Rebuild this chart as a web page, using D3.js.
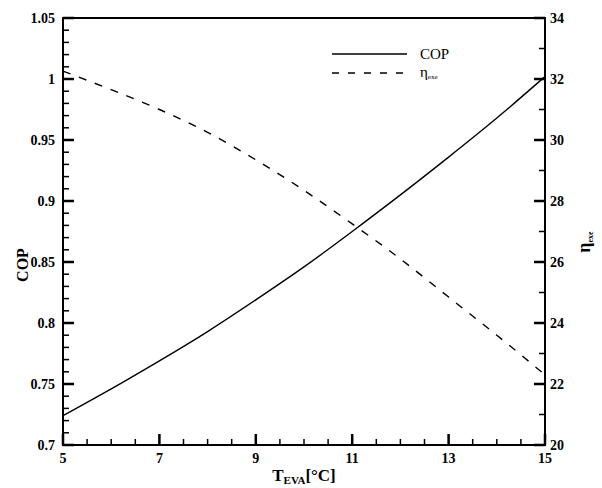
<!DOCTYPE html>
<html><head><meta charset="utf-8">
<script src="https://cdn.jsdelivr.net/npm/d3@7"></script>
<style>body{margin:0;background:#fff}svg{display:block}</style>
</head><body>
<script>
const tEva = [5,6,7,8,9,10,11,12,13,14,15];
const cop = [0.724,0.746,0.769,0.793,0.819,0.846,0.875,0.905,0.936,0.968,1.002];
const etaExe = [32.26,31.65,31.0,30.25,29.35,28.35,27.25,26.1,24.85,23.6,22.3];
const xTicks = [5,7,9,11,13,15];
const yLeftTicks = [0.7,0.75,0.8,0.85,0.9,0.95,1,1.05];
const yRightTicks = [20,22,24,26,28,30,32,34];

const W=602,H=488, L=63,R=545,T=18,B=445;
const svg=d3.select("body").append("svg").attr("width",W).attr("height",H);
const x=d3.scaleLinear().domain([5,15]).range([L,R]);
const yl=d3.scaleLinear().domain([0.7,1.05]).range([B,T]);
const yr=d3.scaleLinear().domain([20,34]).range([B,T]);
const font="'Liberation Serif','DejaVu Serif',serif";

const xMinor=d3.range(0,21).map(i=>5+i*0.5).filter((v,i)=>i%4!==0);
const ylMinor=d3.range(0,36).map(i=>0.7+i*0.01).filter((v,i)=>i%5!==0);
const yrMinor=d3.range(20,35).filter(v=>v%2!==0);

const tickG=svg.append("g").attr("fill","#000");
function vTicks(vals,len,w){ tickG.selectAll(null).data(vals).join("rect")
  .attr("x",d=>x(d)-w/2).attr("y",B-len).attr("width",w).attr("height",len).attr("fill","#000"); }
function hTicksL(vals,len,w){ tickG.selectAll(null).data(vals).join("rect")
  .attr("x",L).attr("y",d=>yl(d)-w/2).attr("width",len).attr("height",w).attr("fill","#000"); }
function hTicksR(vals,len,w){ tickG.selectAll(null).data(vals).join("rect")
  .attr("x",R-len).attr("y",d=>yr(d)-w/2).attr("width",len).attr("height",w).attr("fill","#000"); }
vTicks(xMinor,6,1.5); vTicks(xTicks,11,2.5);
hTicksL(ylMinor,6,1.5); hTicksL(yLeftTicks,11,2.5);
hTicksR(yrMinor,6,1.5); hTicksR(yRightTicks,11,2.5);

svg.append("rect").attr("x",L).attr("y",T).attr("width",R-L).attr("height",B-T).attr("fill","none").attr("stroke","#000").attr("stroke-width",2);

// tick labels
svg.append("g").selectAll("text").data(xTicks).join("text")
  .attr("x",d=>x(d)).attr("y",B+18).attr("text-anchor","middle")
  .attr("font-family",font).attr("font-size",14).attr("font-weight","bold").text(d=>d);
svg.append("g").selectAll("text").data(yLeftTicks).join("text")
  .attr("x",L-8).attr("y",d=>yl(d)+5).attr("text-anchor","end")
  .attr("font-family",font).attr("font-size",14).attr("font-weight","bold").text(d=>String(+d.toFixed(2)));
svg.append("g").selectAll("text").data(yRightTicks).join("text")
  .attr("x",R+5).attr("y",d=>yr(d)+5).attr("text-anchor","start")
  .attr("font-family",font).attr("font-size",14).attr("font-weight","bold").text(d=>d);

// axis titles
const xt=svg.append("text").attr("x",304).attr("y",481).attr("text-anchor","middle")
  .attr("font-family",font).attr("font-size",17).attr("font-weight","bold");
xt.append("tspan").text("T");
xt.append("tspan").attr("font-size",11).attr("dy",3).text("EVA");
xt.append("tspan").attr("dy",-3).text("[°C]");
svg.append("text").attr("transform","translate(28,265) rotate(-90)").attr("text-anchor","middle")
  .attr("font-family",font).attr("font-size",16).attr("font-weight","bold").text("COP");
const rt=svg.append("text").attr("transform","translate(590,242) rotate(-90)").attr("text-anchor","middle")
  .attr("font-family",font).attr("font-size",18).attr("font-weight","bold");
rt.append("tspan").text("η");
rt.append("tspan").attr("font-size",8).attr("dy",3).text("exe");

// lines
const lineL=d3.line().x((d,i)=>x(tEva[i])).y(d=>yl(d)).curve(d3.curveNatural);
const lineR=d3.line().x((d,i)=>x(tEva[i])).y(d=>yr(d)).curve(d3.curveNatural);
svg.append("path").attr("d",lineL(cop)).attr("fill","none").attr("stroke","#000").attr("stroke-width",1.4);
svg.append("path").attr("d",lineR(etaExe)).attr("fill","none").attr("stroke","#000").attr("stroke-width",1.4).attr("stroke-dasharray","8,9");

// legend
svg.append("line").attr("x1",332).attr("x2",407).attr("y1",54).attr("y2",54).attr("stroke","#000").attr("stroke-width",1.5);
svg.append("line").attr("x1",332).attr("x2",407).attr("y1",73).attr("y2",73).attr("stroke","#000").attr("stroke-width",1.5).attr("stroke-dasharray","7,9");
svg.append("text").attr("x",420).attr("y",59).attr("font-family",font).attr("font-size",15).text("COP");
const lt=svg.append("text").attr("x",420).attr("y",77).attr("font-family",font).attr("font-size",15);
lt.append("tspan").text("η");
lt.append("tspan").attr("font-size",7).attr("dy",2).text("exe");
</script>
</body></html>
